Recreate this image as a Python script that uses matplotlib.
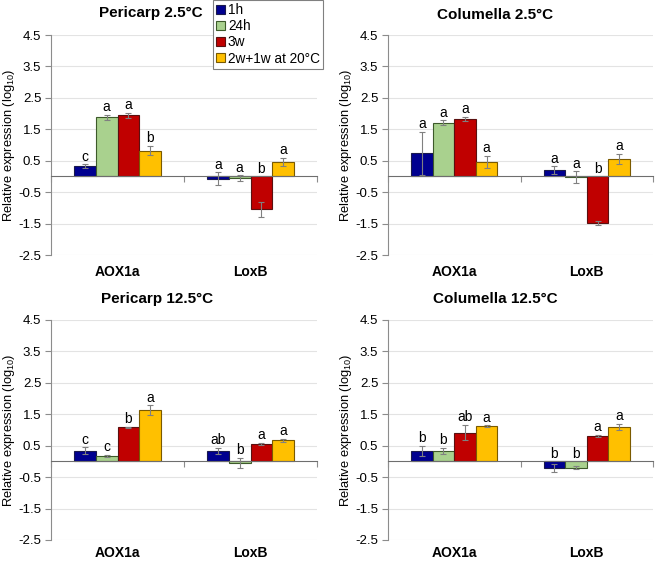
import matplotlib.pyplot as plt
import numpy as np

plt.rcParams['font.family'] = ['Liberation Sans', 'DejaVu Sans']

genes = ['AOX1a', 'LoxB']
series = ['1h', '24h', '3w', '2w+1w at 20°C']
colors = ['#000090', '#A9D18E', '#C00000', '#FFC000']
edges = ['#1a1a4d', '#3d5a2a', '#5a1010', '#7a5a00']

titles = ['Pericarp 2.5°C', 'Columella 2.5°C', 'Pericarp 12.5°C', 'Columella 12.5°C']

# values per panel: rows = genes, cols = series
vals = [
    [[0.33, 1.89, 1.94, 0.82], [-0.07, -0.05, -1.05, 0.47]],
    [[0.73, 1.71, 1.82, 0.46], [0.20, -0.02, -1.48, 0.55]],
    [[0.34, 0.18, 1.08, 1.63], [0.33, -0.05, 0.56, 0.67]],
    [[0.33, 0.33, 0.92, 1.12], [-0.21, -0.20, 0.81, 1.10]],
]
errs = [
    [[0.05, 0.08, 0.09, 0.15], [0.20, 0.08, 0.25, 0.13]],
    [[0.69, 0.08, 0.07, 0.20], [0.12, 0.18, 0.06, 0.16]],
    [[0.11, 0.03, 0.02, 0.16], [0.10, 0.16, 0.03, 0.05]],
    [[0.17, 0.10, 0.25, 0.03], [0.14, 0.05, 0.03, 0.09]],
]
letters = [
    [['c', 'a', 'a', 'b'], ['a', 'a', 'b', 'a']],
    [['a', 'a', 'a', 'a'], ['a', 'a', 'b', 'a']],
    [['c', 'c', 'b', 'a'], ['ab', 'b', 'a', 'a']],
    [['b', 'b', 'ab', 'a'], ['b', 'b', 'a', 'a']],
]
yticks = [-2.5, -1.5, -0.5, 0.5, 1.5, 2.5, 3.5, 4.5]

W, H = 656, 562
fig = plt.figure(figsize=(W / 100, H / 100), dpi=100)

# axes boxes in pixels: left, top, right, bottom
boxes = [(51, 35, 317, 255), (388, 35, 653, 255),
         (51, 320, 317, 540), (388, 320, 653, 540)]
title_pos = [(151, 13), (495, 15), (157, 299), (495, 299)]
ylab_x = [9, 346, 9, 346]
gene_y = [-0.078, -0.078, -0.058, -0.058]

bw = 0.163
for p in range(4):
    l, t, r, b = boxes[p]
    ax = fig.add_axes([l / W, 1 - b / H, (r - l) / W, (b - t) / H])
    ax.set_xlim(0, 2)
    ax.set_ylim(-2.5, 4.5)
    ax.set_yticks(yticks)
    ax.set_yticklabels([f'{v:.1f}' for v in yticks], fontsize=9.5)
    ax.grid(axis='y', color='#E3E3E3', linewidth=0.8)
    ax.set_axisbelow(True)
    for s in ['top', 'right']:
        ax.spines[s].set_visible(False)
    ax.spines['left'].set_color('#8C8C8C')
    ax.spines['bottom'].set_position(('data', 0))
    ax.spines['bottom'].set_color('#6E6E6E')
    ax.set_xticks([0, 1, 2])
    ax.set_xticklabels([])
    ax.tick_params(axis='both', colors='#8C8C8C', labelcolor='black', length=4, pad=3)
    ax.tick_params(axis='x', length=4, direction='out')

    for g in range(2):
        for i in range(4):
            x = g + 0.5 + (i - 1.5) * bw
            v = vals[p][g][i]
            e = errs[p][g][i]
            ax.bar(x, v, width=bw, color=colors[i], edgecolor=edges[i], linewidth=0.8, zorder=2)
            ax.errorbar(x, v, yerr=e, fmt='none', ecolor='#808080', elinewidth=0.8,
                        capsize=2, capthick=0.8, zorder=3)
            ytop = max(v + e, 0)
            ax.text(x, ytop + 0.02, letters[p][g][i], ha='center', va='bottom', fontsize=10)
        ax.text(g + 0.5, gene_y[p], genes[g], transform=ax.get_xaxis_transform(),
                ha='center', va='center', fontsize=10, fontweight='bold')

    fig.text(ylab_x[p] / W, 1 - ((t + b) / 2) / H,
             r'Relative expression (log$_{\mathregular{10}}$)',
             rotation=90, ha='center', va='center', fontsize=9.3)
    fig.text(title_pos[p][0] / W, 1 - title_pos[p][1] / H, titles[p],
             ha='center', va='center', fontsize=11, fontweight='bold')

handles = [plt.Rectangle((0, 0), 1, 1, facecolor=colors[i], edgecolor=edges[i], linewidth=0.8)
           for i in range(4)]
leg = fig.legend(handles, series, loc='upper left', bbox_to_anchor=(213 / W, 1.0),
                 fontsize=9.8, frameon=True, fancybox=False, framealpha=1,
                 edgecolor='#808080', handlelength=0.6, handleheight=0.6,
                 handletextpad=0.25, labelspacing=0.15, borderpad=0.25, borderaxespad=0)
leg.get_frame().set_linewidth(0.8)

fig.savefig('out.png', dpi=100)
